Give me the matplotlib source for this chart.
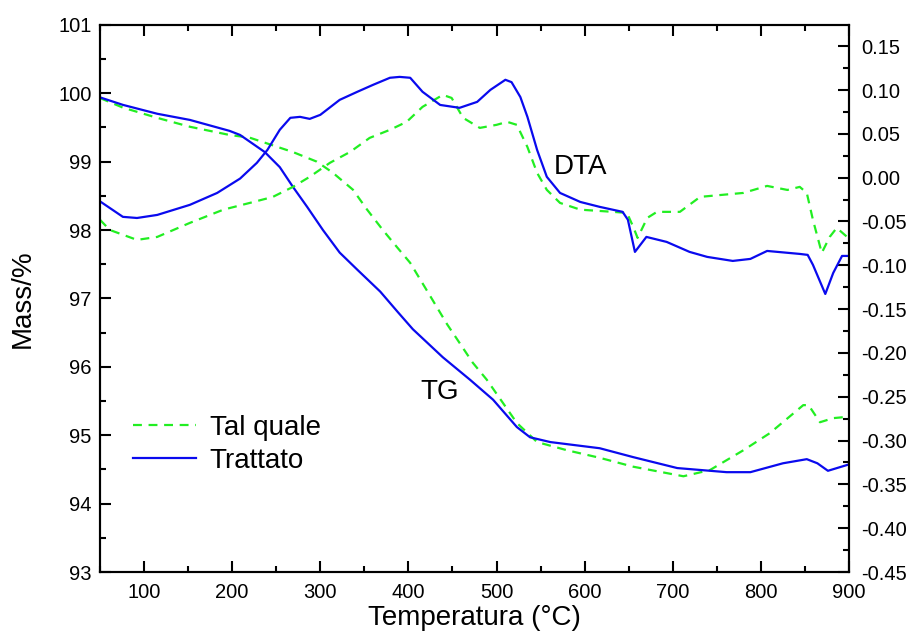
import numpy as np
import matplotlib.pyplot as plt
from matplotlib.ticker import MultipleLocator, FormatStrFormatter

plt.rcParams['font.family'] = ['Liberation Sans', 'DejaVu Sans']

# TG curves (mass %, left axis)
tg_trat_t = [50, 76, 115, 152, 197, 209, 237, 254, 269, 285, 303, 322, 342, 368, 388, 405, 439,
             470, 496, 523, 538, 561, 617, 655, 705, 761, 788, 825, 852, 864, 876, 899]
tg_trat = [99.94, 99.83, 99.70, 99.61, 99.45, 99.39, 99.14, 98.92, 98.63, 98.34, 98.00, 97.67,
           97.42, 97.10, 96.80, 96.55, 96.14, 95.81, 95.52, 95.12, 94.97, 94.90, 94.81, 94.68,
           94.52, 94.46, 94.46, 94.59, 94.65, 94.59, 94.48, 94.57]

tg_tq_t = [50, 76, 115, 152, 197, 220, 269, 296, 314, 337, 353, 371, 387, 402, 424, 444, 458,
           473, 489, 523, 546, 580, 617, 655, 712, 742, 780, 810, 848, 854, 867, 882, 899]
tg_tq = [99.93, 99.79, 99.64, 99.51, 99.39, 99.35, 99.14, 99.00, 98.84, 98.59, 98.30, 98.00,
         97.75, 97.52, 97.05, 96.62, 96.35, 96.06, 95.81, 95.18, 94.90, 94.78, 94.67, 94.54,
         94.40, 94.49, 94.78, 95.03, 95.44, 95.44, 95.19, 95.25, 95.27]

# DTA curves (right axis)
dta_trat_t = [50, 76, 92, 115, 152, 183, 209, 228, 240, 254, 266, 277, 288, 300, 322, 342, 360,
              379, 390, 402, 416, 436, 458, 478, 493, 510, 517, 527, 535, 546, 557, 572, 595,
              617, 643, 649, 657, 670, 693, 719, 739, 768, 788, 807, 844, 853, 859, 873, 882,
              892, 899]
dta_trat = [-0.027, -0.0447, -0.046, -0.0425, -0.031, -0.0174, -0.0010, 0.0169, 0.0317, 0.0546,
            0.0683, 0.0694, 0.0671, 0.0717, 0.0888, 0.098, 0.106, 0.114, 0.115, 0.114, 0.098,
            0.083, 0.0797, 0.0865, 0.1002, 0.1117, 0.109, 0.092, 0.0694, 0.0317, 0.001, -0.0174,
            -0.0277, -0.0333, -0.039, -0.048, -0.0847, -0.0676, -0.0733, -0.0847, -0.0904,
            -0.095, -0.0927, -0.0836, -0.087, -0.0881, -0.0995, -0.1327, -0.1087, -0.0893,
            -0.0893]

dta_tq_t = [50, 61, 92, 115, 152, 190, 220, 246, 269, 288, 311, 334, 356, 379, 398, 416, 439,
            449, 462, 481, 500, 512, 523, 535, 546, 557, 572, 595, 632, 648, 655, 660, 671, 682,
            708, 731, 780, 807, 830, 844, 852, 859, 869, 878, 886, 899]
dta_tq = [-0.048, -0.0596, -0.071, -0.0676, -0.0516, -0.0365, -0.0288, -0.022, -0.0105, 0.001,
          0.017, 0.0295, 0.0454, 0.0546, 0.0637, 0.0808, 0.0945, 0.091, 0.0683, 0.0568, 0.0603,
          0.0637, 0.0603, 0.035, 0.0055, -0.0139, -0.0288, -0.0365, -0.039, -0.0402, -0.056,
          -0.0687, -0.0459, -0.039, -0.039, -0.0219, -0.0174, -0.0094, -0.014, -0.0105,
          -0.0174, -0.0482, -0.0858, -0.0676, -0.0573, -0.0687]

blue = '#0a0aee'
green = '#22ee22'

fig = plt.figure(figsize=(9.13, 6.37), dpi=100)
ax = fig.add_axes([0.1095, 0.102, 0.8205, 0.859])
ax2 = ax.twinx()

ax.plot(tg_tq_t, tg_tq, color=green, lw=1.6, dashes=(4, 3), label='Tal quale')
ax.plot(tg_trat_t, tg_trat, color=blue, lw=1.6, label='Trattato')
ax2.plot(dta_tq_t, dta_tq, color=green, lw=1.6, dashes=(4, 3))
ax2.plot(dta_trat_t, dta_trat, color=blue, lw=1.6)

ax.set_xlim(50, 900)
ax.set_ylim(93, 101)
ax2.set_ylim(-0.45, 0.1744)

ax.xaxis.set_major_locator(MultipleLocator(100))
ax.xaxis.set_minor_locator(MultipleLocator(50))
ax.yaxis.set_major_locator(MultipleLocator(1))
ax.yaxis.set_minor_locator(MultipleLocator(0.5))
ax2.yaxis.set_major_locator(MultipleLocator(0.05))
ax2.yaxis.set_minor_locator(MultipleLocator(0.025))
ax2.yaxis.set_major_formatter(FormatStrFormatter('%.2f'))

ax.tick_params(which='both', direction='in', top=True, right=False, labelsize=14.5, width=1.5)
ax.tick_params(which='major', length=8, pad=6)
ax.tick_params(which='minor', length=4)
ax.tick_params(axis='x', which='major', pad=8)
ax2.tick_params(which='both', direction='in', labelsize=14.5, width=1.5)
ax2.tick_params(which='major', length=8, pad=9)
ax2.tick_params(which='minor', length=4)

for a in (ax, ax2):
    for s in a.spines.values():
        s.set_linewidth(1.5)

ax.set_xlabel('Temperatura (°C)', fontsize=20, labelpad=2)
ax.set_ylabel('Mass/%', fontsize=20, labelpad=16)

ax.text(595, 98.92, 'DTA', fontsize=20, ha='center', va='center')
ax.text(436, 95.63, 'TG', fontsize=20, ha='center', va='center')

ax.legend(loc='upper left', bbox_to_anchor=(0.029, 0.307), borderaxespad=0, frameon=False,
          fontsize=20, handlelength=2.27, handletextpad=0.5, labelspacing=0.25)

fig.savefig('out.png', dpi=100)
